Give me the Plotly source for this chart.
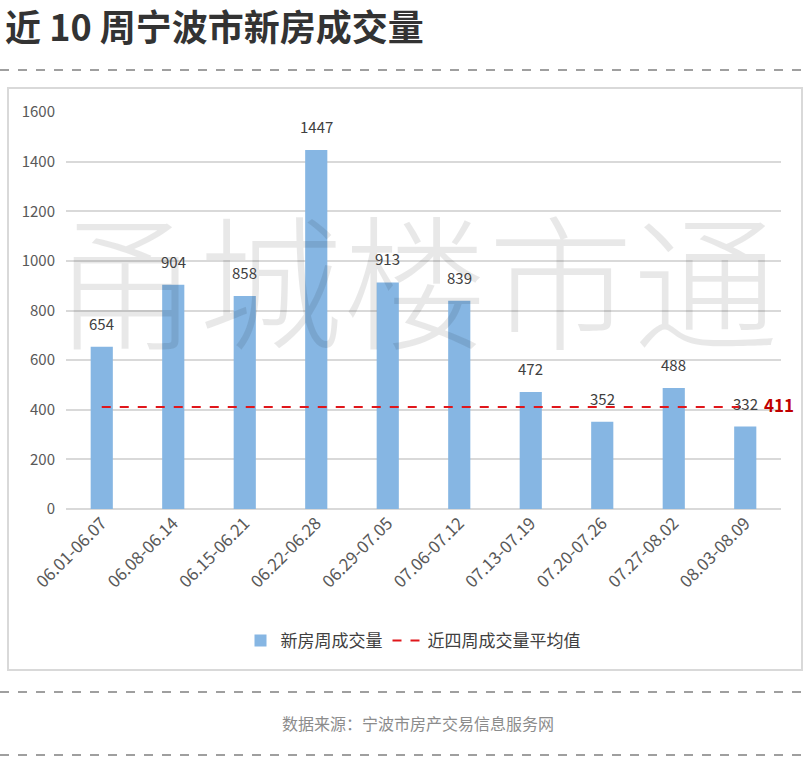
import plotly.graph_objects as go

weeks = ["06.01-06.07", "06.08-06.14", "06.15-06.21", "06.22-06.28", "06.29-07.05",
         "07.06-07.12", "07.13-07.19", "07.20-07.26", "07.27-08.02", "08.03-08.09"]
volumes = [654, 904, 858, 1447, 913, 839, 472, 352, 488, 332]
avg4 = 411
y_ticks = [0, 200, 400, 600, 800, 1000, 1200, 1400, 1600]

W, H = 806, 760
def px(x):
    return x / W
def py(y):
    return 1 - y / H

FONT = "Noto Sans CJK SC"

fig = go.Figure()
fig.add_trace(go.Bar(
    x=weeks, y=volumes, name="新房周成交量",
    marker=dict(color="#86b6e3", line=dict(width=0)),
    width=0.31,
))
fig.add_trace(go.Scatter(
    x=[weeks[0], weeks[-1]], y=[avg4, avg4], mode="lines",
    name="近四周成交量平均值",
    line=dict(color="#e0161b", width=2, dash="dash"),
))

annotations = [
    dict(text="甬城楼市通", xref="paper", yref="paper", x=px(415), y=py(276),
         xanchor="center", yanchor="middle", showarrow=False,
         font=dict(size=145, color="rgba(0,0,0,0.09)", family=FONT, weight=300)),
    dict(text="<b>近 10 周宁波市新房成交量</b>", xref="paper", yref="paper", x=px(3), y=py(25),
         xanchor="left", yanchor="middle", showarrow=False,
         font=dict(size=36, color="#333333", family=FONT)),
    dict(text="数据来源：宁波市房产交易信息服务网", xref="paper", yref="paper", x=px(418), y=py(723),
         xanchor="center", yanchor="middle", showarrow=False,
         font=dict(size=16, color="#8c8c8c", family=FONT)),
    dict(text="<b>411</b>", x=weeks[-1], y=avg4, xref="x", yref="y", xanchor="left",
         yanchor="middle", xshift=17, yshift=3, showarrow=False,
         font=dict(size=17, color="#c00000", family=FONT)),
]
for w, v in zip(weeks, volumes):
    annotations.append(dict(text=str(v), x=w, y=v, xref="x", yref="y", xanchor="center",
                            yanchor="bottom", yshift=11, showarrow=False,
                            font=dict(size=15, color="#404040", family=FONT)))

fig.update_layout(
    width=W, height=H,
    margin=dict(l=0, r=0, t=0, b=0, autoexpand=False),
    paper_bgcolor="white", plot_bgcolor="white",
    font=dict(family=FONT, color="#595959"),
    showlegend=True,
    legend=dict(orientation="h", x=px(413), y=py(641), xanchor="center", yanchor="middle",
                font=dict(size=17, color="#404040", family=FONT), traceorder="normal",
                itemwidth=30),
    xaxis=dict(domain=[px(66), px(781)], range=[-0.5, len(weeks) - 0.5], showgrid=False,
               tickangle=-45, automargin=False,
               tickfont=dict(size=17, color="#595959"), showline=False, ticks=""),
    yaxis=dict(domain=[py(509), py(112)], range=[0, 1600], tickvals=y_ticks, automargin=False,
               gridcolor="#d9d9d9", gridwidth=1.5, zeroline=True, zerolinecolor="#d9d9d9",
               zerolinewidth=1.5, tickfont=dict(size=15, color="#595959"), ticks="",
               ticklabelstandoff=10),
    shapes=[
        dict(type="rect", xref="paper", yref="paper", x0=px(8), x1=px(802), y0=py(670), y1=py(88),
             line=dict(color="#d9d9d9", width=2), layer="below"),
        dict(type="line", xref="paper", yref="paper", x0=0, x1=1, y0=py(70), y1=py(70),
             line=dict(color="#808080", width=1.5, dash="dash")),
        dict(type="line", xref="paper", yref="paper", x0=0, x1=1, y0=py(692), y1=py(692),
             line=dict(color="#808080", width=1.5, dash="dash")),
        dict(type="line", xref="paper", yref="paper", x0=0, x1=1, y0=py(755), y1=py(755),
             line=dict(color="#808080", width=1.5, dash="dash")),
    ],
    annotations=annotations,
)

fig.write_html(
    "out.html",
    config={"displayModeBar": False},
    post_script="document.body.style.margin='0';document.body.style.overflow='hidden';"
                "Plotly.relayout(document.getElementById('{plot_id}'), {width: 806, height: 760});",
)
